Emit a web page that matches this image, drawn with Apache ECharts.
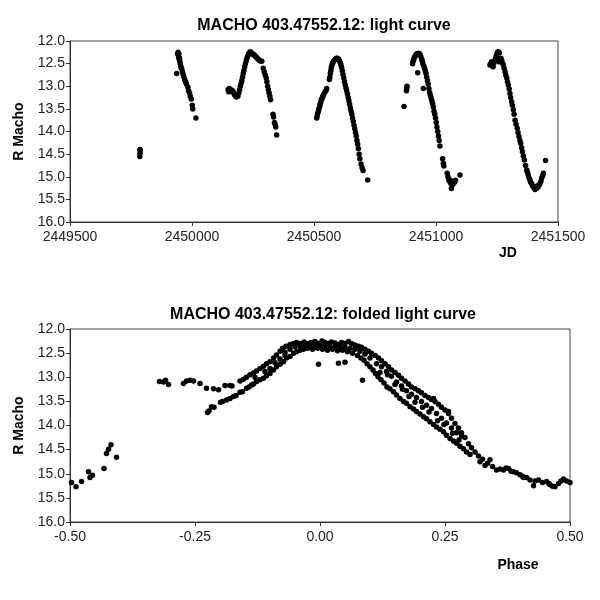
<!DOCTYPE html>
<html>
<head>
<meta charset="utf-8">
<script src="https://cdn.jsdelivr.net/npm/echarts@6/dist/echarts.min.js"></script>
<style>
  html, body { margin: 0; padding: 0; background: #fff; }
  #chart { width: 600px; height: 600px; }
</style>
</head>
<body>
<div id="chart"></div>
<script>
// light curve: [JD, R mag]
const lightCurve = [
  [2449786,14.55],[2449787,14.48],[2449788,14.42],[2449787,14.4],
  [2449937,12.72],[2449941,12.28],[2449943,12.25],[2449944,12.3],[2449945,12.35],[2449946,12.28],[2449947,12.4],[2449949,12.38],
  [2449950,12.45],[2449952,12.5],[2449954,12.55],[2449956,12.6],[2449958,12.62],[2449961,12.68],[2449964,12.74],[2449967,12.8],
  [2449970,12.86],[2449974,12.9],[2449977,12.95],[2449983,13.02],[2449986,13.1],[2449990,13.15],[2449993,13.22],[2449997,13.28],
  [2450001,13.42],[2450003,13.5],[2450016,13.7],
  [2450148,13.08],[2450150,13.12],[2450153,13.05],[2450156,13.1],[2450160,13.08],[2450163,13.12],[2450167,13.1],[2450170,13.14],
  [2450174,13.18],[2450178,13.22],[2450182,13.24],[2450185,13.2],[2450188,13.22],[2450192,13.15],[2450195,13.08],[2450198,13.0],
  [2450201,12.94],[2450204,12.88],[2450207,12.8],[2450210,12.72],[2450213,12.65],[2450216,12.57],[2450219,12.5],[2450222,12.44],
  [2450225,12.38],[2450228,12.34],[2450231,12.3],[2450234,12.27],[2450237,12.25],[2450240,12.24],[2450243,12.26],[2450246,12.28],
  [2450250,12.3],[2450254,12.3],[2450258,12.33],[2450262,12.35],[2450266,12.37],[2450270,12.4],[2450275,12.42],[2450280,12.44],
  [2450286,12.45],[2450292,12.6],[2450296,12.68],[2450300,12.75],[2450304,12.82],[2450307,12.9],[2450310,13.0],[2450313,13.08],
  [2450316,13.15],[2450319,13.22],[2450322,13.3],[2450332,13.62],[2450334,13.68],[2450338,13.8],[2450341,13.85],[2450343,13.9],
  [2450347,14.08],
  [2450511,13.7],[2450513,13.65],[2450515,13.6],[2450518,13.55],[2450520,13.5],[2450523,13.45],[2450525,13.4],[2450528,13.35],
  [2450530,13.3],[2450533,13.27],[2450536,13.22],[2450540,13.18],[2450545,13.12],[2450549,13.1],[2450552,13.05],[2450563,12.85],
  [2450565,12.8],[2450567,12.72],[2450569,12.65],[2450571,12.58],[2450574,12.52],[2450577,12.48],[2450580,12.45],[2450584,12.42],
  [2450588,12.4],[2450592,12.38],[2450596,12.38],[2450600,12.4],[2450604,12.43],[2450607,12.47],[2450610,12.52],[2450613,12.58],
  [2450616,12.66],[2450619,12.74],[2450622,12.82],[2450625,12.9],[2450628,12.97],[2450631,13.04],[2450634,13.1],[2450637,13.17],
  [2450640,13.25],[2450643,13.32],[2450646,13.4],[2450649,13.48],[2450652,13.55],[2450655,13.62],[2450658,13.7],[2450661,13.78],
  [2450664,13.86],[2450667,13.94],[2450670,14.02],[2450673,14.1],[2450676,14.2],[2450679,14.28],[2450682,14.38],[2450685,14.5],
  [2450688,14.6],[2450693,14.72],[2450697,14.8],[2450701,14.86],[2450720,15.07],
  [2450869,13.45],[2450879,13.1],[2450880,13.05],[2450881,13.0],[2450904,12.5],[2450906,12.45],[2450908,12.42],[2450910,12.38],
  [2450913,12.35],[2450916,12.32],[2450919,12.3],[2450922,12.28],[2450925,12.7],[2450926,12.28],[2450929,12.27],[2450932,12.28],
  [2450935,12.3],[2450938,12.35],[2450941,12.4],[2450944,12.45],[2450946,12.5],[2450948,13.05],[2450950,12.55],[2450953,12.6],
  [2450956,12.66],[2450959,12.72],[2450962,12.8],[2450965,12.88],[2450968,12.95],[2450971,13.05],[2450974,13.14],[2450977,13.2],
  [2450980,13.26],[2450983,13.32],[2450986,13.38],[2450989,13.46],[2450992,13.55],[2450995,13.62],[2450998,13.7],[2451001,13.8],
  [2451004,13.9],[2451007,14.0],[2451010,14.1],[2451013,14.2],[2451016,14.32],[2451027,14.6],[2451030,14.7],[2451032,14.76],
  [2451046,14.92],[2451049,15.0],[2451052,15.05],[2451055,15.1],[2451058,15.08],[2451061,15.15],[2451063,15.26],[2451066,15.12],
  [2451069,15.17],[2451072,15.1],[2451076,15.12],[2451080,15.08],[2451098,14.96],
  [2451221,12.53],[2451224,12.5],[2451228,12.46],[2451231,12.55],[2451234,12.57],[2451238,12.48],[2451242,12.42],[2451246,12.35],
  [2451249,12.3],[2451252,12.25],[2451256,12.24],[2451260,12.26],[2451258,12.46],[2451263,12.4],[2451266,12.38],[2451269,12.42],
  [2451272,12.48],[2451276,12.53],[2451279,12.6],[2451283,12.68],[2451286,12.75],[2451290,12.82],[2451293,12.9],[2451296,12.97],
  [2451300,13.06],[2451303,13.16],[2451306,13.25],[2451310,13.34],[2451313,13.42],[2451317,13.52],[2451320,13.62],[2451324,13.75],
  [2451328,13.84],[2451333,13.93],[2451336,14.02],[2451340,14.11],[2451344,14.2],[2451347,14.26],[2451351,14.36],[2451354,14.45],
  [2451358,14.54],[2451362,14.63],[2451367,14.75],[2451372,14.85],[2451375,14.9],[2451378,14.96],[2451381,15.02],[2451385,15.07],
  [2451388,15.12],[2451392,15.15],[2451395,15.2],[2451399,15.22],[2451402,15.25],[2451406,15.28],[2451409,15.24],[2451412,15.26],
  [2451416,15.2],[2451419,15.22],[2451423,15.18],[2451426,15.15],[2451430,15.1],[2451433,15.03],[2451437,14.98],[2451440,14.92],
  [2451449,14.64]
];

// folded light curve: [phase, R mag]
const foldedCurve = [
  [-0.497,15.18],[-0.488,15.27],[-0.477,15.16],[-0.463,14.96],[-0.46,15.08],[-0.455,15.03],[-0.432,14.89],[-0.427,14.58],
  [-0.423,14.49],[-0.418,14.4],[-0.407,14.66],
  [-0.321,13.09],[-0.313,13.1],[-0.309,13.06],[-0.303,13.15],[-0.273,13.13],[-0.267,13.08],[-0.26,13.06],[-0.253,13.08],
  [-0.24,13.13],[-0.227,13.23],[-0.213,13.24],[-0.203,13.26],[-0.19,13.17],[-0.18,13.17],[-0.176,13.18],
  [-0.225,13.73],[-0.222,13.7],[-0.217,13.61],[-0.212,13.62],[-0.199,13.52],[-0.195,13.5],[-0.187,13.47],[-0.18,13.44],
  [-0.173,13.4],[-0.168,13.38],[-0.16,13.31],[-0.155,13.3],[-0.147,13.23],[-0.142,13.2],[-0.137,13.16],[-0.133,13.14],
  [-0.127,13.09],[-0.12,13.05],[-0.113,13.02],[-0.107,12.97],[-0.1,12.92],[-0.093,12.85],[-0.087,12.78],[-0.08,12.73],
  [-0.073,12.68],[-0.067,12.6],[-0.06,12.57],[-0.053,12.5],[-0.047,12.47],[-0.04,12.44],[-0.033,12.42],[-0.025,12.4],
  [-0.015,12.42],[-0.005,12.4],[0.005,12.42],[0.015,12.44],[0.025,12.42],[0.035,12.45],[0.045,12.44],[0.055,12.47],
  [0.065,12.5],[0.075,12.55],[0.082,12.6],[0.088,12.65],[0.094,12.72],[0.1,12.78],[0.106,12.85],[0.111,12.92],
  [0.116,12.99],[0.122,13.05],[0.128,13.12],[0.134,13.2],[0.14,13.24],[0.147,13.3],[0.153,13.37],[0.16,13.44],
  [0.167,13.5],[0.173,13.54],[0.18,13.61],[0.187,13.66],[0.193,13.71],[0.2,13.76],[0.207,13.82],[0.213,13.86],
  [0.22,13.92],[0.227,13.98],[0.233,14.03],[0.24,14.08],[0.247,14.13],[0.253,14.2],[0.26,14.27],[0.267,14.32],
  [0.273,14.37],[0.28,14.43],[0.287,14.48],[0.293,14.55],[0.3,14.6],
  [-0.16,13.08],[-0.153,13.04],[-0.147,13.0],[-0.14,12.95],[-0.133,12.91],[-0.127,12.87],[-0.12,12.82],[-0.113,12.77],
  [-0.107,12.72],[-0.1,12.68],[-0.093,12.6],[-0.087,12.54],[-0.08,12.46],[-0.075,12.4],[-0.068,12.36],[-0.06,12.32],
  [-0.053,12.3],[-0.047,12.28],[-0.04,12.3],[-0.032,12.27],[-0.025,12.3],[-0.018,12.28],[-0.01,12.26],[-0.003,12.3],
  [0.004,12.25],[0.01,12.28],[0.017,12.3],[0.023,12.27],[0.03,12.29],[0.037,12.32],[0.043,12.28],[0.05,12.3],
  [0.057,12.26],[0.063,12.3],[0.07,12.33],[0.077,12.36],[0.083,12.38],[0.09,12.42],[0.097,12.46],[0.103,12.5],
  [0.11,12.55],[0.117,12.6],[0.123,12.66],[0.13,12.72],[0.137,12.78],[0.143,12.85],[0.15,12.9],[0.157,12.96],
  [0.163,13.02],[0.17,13.08],[0.177,13.14],[0.183,13.2],[0.19,13.24],[0.197,13.28],[0.203,13.32],[0.21,13.38],
  [0.217,13.42],[0.223,13.46],[0.23,13.5],[0.237,13.56],[0.243,13.62],[0.25,13.68],[0.257,13.75],[0.263,13.85],
  [0.27,13.96],[0.277,14.05],[0.283,14.15],[0.29,14.25],[0.297,14.38],[0.303,14.46],[0.31,14.55],
  [-0.1,12.82],[-0.09,12.7],[-0.08,12.62],[-0.07,12.55],[-0.06,12.42],[-0.05,12.37],[-0.04,12.35],[-0.03,12.35],
  [-0.02,12.34],[-0.01,12.36],[0.0,12.33],[0.01,12.35],[0.02,12.36],[0.03,12.38],[0.04,12.36],[0.05,12.38],
  [0.06,12.4],[0.07,12.42],[0.08,12.46],[0.09,12.52],[0.1,12.6],[0.113,12.72],[0.123,12.78],[0.133,12.88],
  [0.143,12.98],[0.153,13.1],[0.163,13.18],[0.173,13.28],[0.183,13.35],[0.193,13.42],[0.203,13.5],[0.213,13.58],
  [0.223,13.65],[0.233,13.75],[0.243,13.85],[0.253,13.95],[0.263,14.05],[0.273,14.15],[0.283,14.22],
  [0.12,12.9],[0.135,12.95],[0.15,13.15],[0.165,13.25],[0.178,13.4],[0.19,13.52],[0.205,13.62],[0.218,13.72],
  [0.235,13.9],[0.248,13.98],[0.265,14.16],[0.278,14.3],[-0.13,13.0],[-0.11,12.88],[-0.07,12.48],[-0.02,12.38],
  [-0.003,12.73],[0.037,12.71],[0.05,12.69],[0.085,13.06],[0.227,13.44],[0.257,13.71],
  [0.317,14.63],[0.32,14.75],[0.325,14.7],[0.33,14.83],[0.335,14.78],[0.34,14.71],[0.345,14.85],[0.353,14.92],
  [0.36,14.9],[0.367,14.92],[0.372,14.88],[0.377,14.89],[0.382,14.95],[0.387,14.96],[0.393,14.98],[0.4,15.02],
  [0.405,15.05],[0.407,15.08],[0.413,15.08],[0.42,15.13],[0.427,15.25],[0.43,15.15],[0.437,15.13],[0.445,15.18],
  [0.453,15.16],[0.458,15.2],[0.46,15.23],[0.465,15.26],[0.47,15.27],[0.477,15.2],[0.482,15.15],[0.487,15.11],
  [0.493,15.15],[0.5,15.18]
];

const titles = ['MACHO 403.47552.12: light curve', 'MACHO 403.47552.12: folded light curve'];
const magRange = [12, 16];
const jdRange = [2449500, 2451500];
const phaseRange = [-0.5, 0.5];

const FONT = '"Liberation Sans", Arial, sans-serif';
const axisColor = '#333';

function yAxisCfg(gridIndex) {
    return {
        gridIndex: gridIndex,
        type: 'value',
        inverse: true,
        min: magRange[0],
        max: magRange[1],
        interval: 0.5,
        name: 'R Macho',
        nameLocation: 'middle',
        nameGap: 44,
        nameTextStyle: { fontFamily: FONT, fontSize: 14, fontWeight: 'bold', color: '#000' },
        axisLine: { show: true, onZero: false, lineStyle: { color: axisColor } },
        axisTick: { show: true, length: 4, lineStyle: { color: axisColor } },
        axisLabel: {
            fontFamily: FONT, fontSize: 14, color: '#222', margin: 5,
            formatter: v => v.toFixed(1)
        },
        splitLine: { show: false }
    };
}

const chart = echarts.init(document.getElementById('chart'));

chart.setOption({
    backgroundColor: '#fff',
    animation: false,
    title: [
        {
            text: titles[0], left: 319, top: 13, textAlign: 'center',
            textStyle: { fontFamily: FONT, fontSize: 16, fontWeight: 'bold', color: '#000' }
        },
        {
            text: titles[1], left: 318, top: 302, textAlign: 'center',
            textStyle: { fontFamily: FONT, fontSize: 16, fontWeight: 'bold', color: '#000' }
        }
    ],
    grid: [
        { left: 70, top: 41, width: 488, height: 181, show: true, borderColor: '#444', borderWidth: 1, backgroundColor: '#fff' },
        { left: 70, top: 329, width: 500, height: 193, show: true, borderColor: '#444', borderWidth: 1, backgroundColor: '#fff' }
    ],
    xAxis: [
        {
            gridIndex: 0,
            type: 'value',
            min: jdRange[0],
            max: jdRange[1],
            interval: 500,
            name: 'JD',
            nameLocation: 'end',
            nameGap: -50,
            nameTextStyle: {
                fontFamily: FONT, fontSize: 14, fontWeight: 'bold', color: '#000',
                align: 'center', verticalAlign: 'top', padding: [24, 0, 0, 0]
            },
            axisLine: { show: true, onZero: false, lineStyle: { color: axisColor } },
            axisTick: { show: true, length: 4, lineStyle: { color: axisColor } },
            axisLabel: {
                fontFamily: FONT, fontSize: 14, color: '#222', margin: 8,
                formatter: v => String(v)
            },
            splitLine: { show: false }
        },
        {
            gridIndex: 1,
            type: 'value',
            min: phaseRange[0],
            max: phaseRange[1],
            interval: 0.25,
            name: 'Phase',
            nameLocation: 'end',
            nameGap: -52,
            nameTextStyle: {
                fontFamily: FONT, fontSize: 14, fontWeight: 'bold', color: '#000',
                align: 'center', verticalAlign: 'top', padding: [36, 0, 0, 0]
            },
            axisLine: { show: true, onZero: false, lineStyle: { color: axisColor } },
            axisTick: { show: true, length: 4, lineStyle: { color: axisColor } },
            axisLabel: {
                fontFamily: FONT, fontSize: 14, color: '#222', margin: 8,
                formatter: v => v.toFixed(2)
            },
            splitLine: { show: false }
        }
    ],
    yAxis: [yAxisCfg(0), yAxisCfg(1)],
    series: [
        {
            type: 'scatter',
            xAxisIndex: 0,
            yAxisIndex: 0,
            data: lightCurve,
            symbol: 'circle',
            symbolSize: 5.5,
            itemStyle: { color: '#000', opacity: 1 }
        },
        {
            type: 'scatter',
            xAxisIndex: 1,
            yAxisIndex: 1,
            data: foldedCurve,
            symbol: 'circle',
            symbolSize: 5.5,
            itemStyle: { color: '#000', opacity: 1 }
        }
    ]
});
</script>
</body>
</html>
